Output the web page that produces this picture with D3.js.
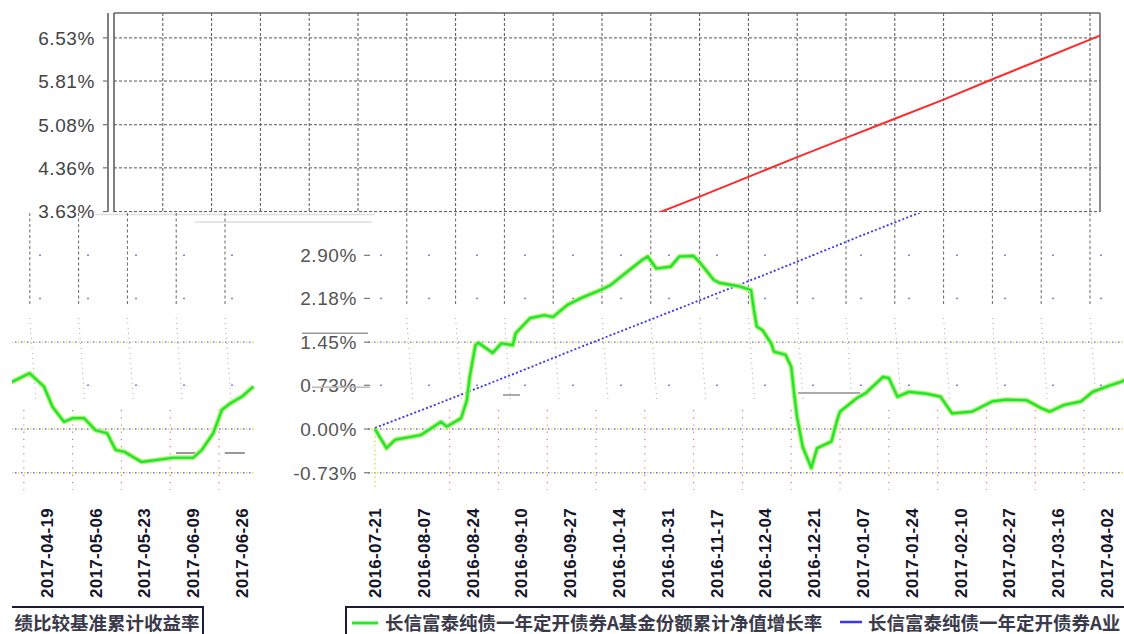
<!DOCTYPE html>
<html><head><meta charset="utf-8">
<script src="https://cdn.jsdelivr.net/npm/d3@7"></script>
<style>
html,body{margin:0;padding:0;background:#fff;overflow:hidden}
svg{display:block}
</style></head>
<body>
<svg id="chart" width="1124" height="634"></svg>
<script>
// ---------------- data ----------------
const fundDates = ["2016-07-21","2016-07-25","2016-07-28","2016-08-06","2016-08-13","2016-08-15","2016-08-20","2016-08-22","2016-08-23","2016-08-25","2016-08-26","2016-08-31","2016-09-03","2016-09-07","2016-09-08","2016-09-13","2016-09-18","2016-09-21","2016-09-26","2016-10-01","2016-10-07","2016-10-11","2016-10-17","2016-10-22","2016-10-24","2016-10-27","2016-11-01","2016-11-04","2016-11-09","2016-11-11","2016-11-16","2016-11-18","2016-11-25","2016-11-29","2016-11-30","2016-12-01","2016-12-03","2016-12-06","2016-12-07","2016-12-11","2016-12-13","2016-12-14","2016-12-15","2016-12-17","2016-12-20","2016-12-22","2016-12-27","2016-12-29","2016-12-30","2017-01-05","2017-01-08","2017-01-14","2017-01-16","2017-01-19","2017-01-23","2017-01-29","2017-02-03","2017-02-07","2017-02-14","2017-02-21","2017-02-26","2017-03-05","2017-03-10","2017-03-13","2017-03-18","2017-03-24","2017-03-28","2017-04-02","2017-04-07","2017-04-13","2017-04-18","2017-04-21","2017-04-25","2017-04-28","2017-05-02","2017-05-06","2017-05-10","2017-05-13","2017-05-16","2017-05-22","2017-05-27","2017-06-02","2017-06-09","2017-06-12","2017-06-16","2017-06-19","2017-06-22","2017-06-26","2017-06-30"];
const fundValues = [0.00,-0.32,-0.18,-0.10,0.12,0.04,0.18,0.48,0.87,1.40,1.44,1.27,1.43,1.40,1.60,1.85,1.90,1.87,2.07,2.19,2.31,2.40,2.63,2.82,2.88,2.68,2.71,2.88,2.89,2.79,2.49,2.44,2.38,2.32,1.99,1.71,1.65,1.43,1.29,1.24,1.04,0.60,0.21,-0.30,-0.65,-0.32,-0.21,0.15,0.29,0.52,0.60,0.87,0.85,0.54,0.62,0.59,0.54,0.26,0.29,0.46,0.49,0.48,0.35,0.29,0.40,0.46,0.62,0.71,0.79,0.93,0.71,0.37,0.12,0.18,0.18,-0.02,-0.07,-0.35,-0.38,-0.55,-0.52,-0.48,-0.48,-0.35,-0.07,0.32,0.43,0.54,0.71];

const benchDates = ["2016-07-21","2016-08-07","2016-08-24","2016-09-10","2016-09-27","2016-10-14","2016-10-31","2016-11-17","2016-12-04","2016-12-21","2017-01-07","2017-01-24","2017-02-10","2017-02-27","2017-03-16","2017-04-02","2017-04-19","2017-05-06","2017-05-23","2017-06-09","2017-06-26","2017-06-30"];
const benchValues = [0.02,0.33,0.65,0.97,1.30,1.62,1.94,2.26,2.58,2.91,3.24,3.56,3.88,4.21,4.54,4.86,5.18,5.50,5.84,6.17,6.50,6.58];

const xTickLabels = ["2016-07-21","2016-08-07","2016-08-24","2016-09-10","2016-09-27","2016-10-14","2016-10-31","2016-11-17","2016-12-04","2016-12-21","2017-01-07","2017-01-24","2017-02-10","2017-02-27","2017-03-16","2017-04-02","2017-04-19","2017-05-06","2017-05-23","2017-06-09","2017-06-26"];
const yTicksTop = [3.63,4.36,5.08,5.81,6.53];
const yTickLabelsTop = ["3.63%","4.36%","5.08%","5.81%","6.53%"];
const yTicksBottom = [-0.73,0.00,0.73,1.45,2.18,2.90];
const yTickLabelsBottom = ["-0.73%","0.00%","0.73%","1.45%","2.18%","2.90%"];
const seriesNames = ["长信富泰纯债一年定开债券A基金份额累计净值增长率","长信富泰纯债一年定开债券A业绩比较基准累计收益率"];

// ---------------- setup ----------------
const parse = d3.timeParse("%Y-%m-%d");
const svg = d3.select("#chart");
const W = 1124, H = 634;
const WRAP = 1109;
const FONT = "'Liberation Sans', Arial, sans-serif";
const CJK = "'Noto Sans CJK SC', sans-serif";

const x = d3.scaleTime().domain([parse("2016-07-21"), parse("2017-04-02")]).range([375, 1107]);
const xTop = d3.scaleTime().domain([parse("2016-07-21"), parse("2017-04-02")]).range([114, 846]);
const y = d3.scaleLinear().domain([0, 6.53]).range([429, 37.9]);

const fund = fundDates.map((d,i)=>({d:parse(d), v:fundValues[i]}));
const bench = benchDates.map((d,i)=>({d:parse(d), v:benchValues[i]}));
const ticks = xTickLabels.map((s)=>({d:parse(s), s}));
const gridTopDates = d3.range(1, 26).map(k => d3.timeDay.offset(parse("2016-07-21"), 17*k));
const redGridDates = d3.range(0, 19).map(k => d3.timeDay.offset(parse("2016-08-16"), 17*k));

const defs = svg.append("defs");
defs.append("clipPath").attr("id","clipTop").append("rect").attr("x",114).attr("y",13).attr("width",986).attr("height",199);
defs.append("clipPath").attr("id","clipMain").append("rect").attr("x",262).attr("y",213).attr("width",W-262).attr("height",H-213);
defs.append("clipPath").attr("id","clipWrap").append("rect").attr("x",12).attr("y",213).attr("width",250).attr("height",H-213);

// ---------------- top panel ----------------
const topG = svg.append("g");
topG.selectAll(".hgrid").data(yTicksTop).join("line")
  .attr("x1",114).attr("x2",1100).attr("y1",d=>y(d)).attr("y2",d=>y(d))
  .attr("stroke","#555").attr("stroke-width",1).attr("stroke-dasharray","3,2");
topG.selectAll(".vgrid").data(gridTopDates.filter(d=>xTop(d)<1098)).join("line")
  .attr("x1",d=>xTop(d)).attr("x2",d=>xTop(d)).attr("y1",13).attr("y2",212)
  .attr("stroke","#555").attr("stroke-width",1).attr("stroke-dasharray","3,2");
topG.append("line").attr("x1",114).attr("x2",1100).attr("y1",13).attr("y2",13).attr("stroke","#666").attr("stroke-width",1.5);
topG.append("line").attr("x1",1100).attr("x2",1100).attr("y1",13).attr("y2",212).attr("stroke","#666").attr("stroke-width",1.5);
topG.append("line").attr("x1",108).attr("x2",108).attr("y1",13).attr("y2",212).attr("stroke","#555").attr("stroke-width",1.5);
topG.append("line").attr("x1",114).attr("x2",114).attr("y1",13).attr("y2",212).attr("stroke","#555").attr("stroke-width",1.5);
topG.selectAll(".ytick").data(yTicksTop).join("line")
  .attr("x1",103).attr("x2",107).attr("y1",d=>y(d)).attr("y2",d=>y(d)).attr("stroke","#555");
topG.selectAll(".ylab").data(yTicksTop).join("text")
  .attr("x",95).attr("y",d=>y(d)).attr("dy","0.36em").attr("text-anchor","end")
  .attr("font-family",FONT).attr("font-size",19).attr("letter-spacing","0.6px").attr("fill","#444")
  .text((d,i)=>yTickLabelsTop[i]);
topG.append("path").datum(bench).attr("clip-path","url(#clipTop)")
  .attr("fill","none").attr("stroke","#ff2a2a").attr("stroke-width",2)
  .attr("d", d3.line().x(d=>xTop(d.d)).y(d=>y(d.v)));

svg.append("line").attr("x1",95).attr("x2",375).attr("y1",214.5).attr("y2",214.5).attr("stroke","#ddd").attr("stroke-width",1.5);
svg.append("line").attr("x1",195).attr("x2",372).attr("y1",222).attr("y2",222).attr("stroke","#ddd").attr("stroke-width",1.5);

// ---------------- bottom panel (drawn twice: main + wrapped) ----------------
function drawBottom(g, isMain){
  const ext = gridTopDates.filter(d=>xTop(d)>380);
  g.selectAll(".ext1").data(ext).join("line")
    .attr("x1",d=>xTop(d)).attr("x2",d=>xTop(d)).attr("y1",213).attr("y2",305)
    .attr("stroke","#666").attr("stroke-width",1).attr("stroke-dasharray","3,2.5");
  g.selectAll(".ext2").data(ext).join("line")
    .attr("x1",d=>xTop(d)).attr("x2",d=>xTop(d)+6).attr("y1",318).attr("y2",400)
    .attr("stroke","#aaa").attr("stroke-width",1).attr("stroke-dasharray","1,4");
  g.selectAll(".rgrid").data(redGridDates).join("line")
    .attr("x1",d=>x(d)).attr("x2",d=>x(d)).attr("y1",410).attr("y2",490)
    .attr("stroke","#f07070").attr("stroke-width",1.2).attr("stroke-dasharray","1.2,6");
  const xEnd = x(parse("2017-06-30"));
  [1.45, 0, -0.73].forEach(v=>{
    g.append("line").attr("x1",368).attr("x2",xEnd).attr("y1",y(v)).attr("y2",y(v))
      .attr("stroke","#6a6af0").attr("stroke-width",1.4).attr("stroke-dasharray","1.5,4.5");
    g.append("line").attr("x1",371).attr("x2",xEnd).attr("y1",y(v)).attr("y2",y(v))
      .attr("stroke","#e6d84a").attr("stroke-width",1.4).attr("stroke-dasharray","1.5,4.5");
  });
  [2.90, 2.18, 0.73].forEach(v=>{
    g.append("line").attr("x1",380).attr("x2",xEnd).attr("y1",y(v)).attr("y2",y(v))
      .attr("stroke","#8080e0").attr("stroke-width",1.4).attr("stroke-dasharray","2,46");
  });
  g.append("line").attr("x1",375).attr("x2",375).attr("y1",436).attr("y2",490)
    .attr("stroke","#e8dc40").attr("stroke-width",1.4).attr("stroke-dasharray","1.5,3");
  g.append("line").attr("x1",798).attr("x2",860).attr("y1",393).attr("y2",393).attr("stroke","#aaa").attr("stroke-width",2);
  g.append("line").attr("x1",503).attr("x2",520).attr("y1",395).attr("y2",395).attr("stroke","#aaa").attr("stroke-width",2);
  g.append("line").attr("x1",x(parse("2017-06-03"))).attr("x2",x(parse("2017-06-10"))).attr("y1",453).attr("y2",453).attr("stroke","#999").attr("stroke-width",2);
  g.append("line").attr("x1",x(parse("2017-06-20"))).attr("x2",x(parse("2017-06-27"))).attr("y1",453).attr("y2",453).attr("stroke","#999").attr("stroke-width",2);

  if(isMain){
    g.selectAll(".bylab").data(yTicksBottom).join("text")
      .attr("x",357).attr("y",d=>y(d)).attr("dy","0.36em").attr("text-anchor","end")
      .attr("font-family",FONT).attr("font-size",19).attr("letter-spacing","0.6px").attr("fill","#555")
      .text((d,i)=>yTickLabelsBottom[i]);
    g.selectAll(".bytick").data(yTicksBottom).join("line")
      .attr("x1",364).attr("x2",370).attr("y1",d=>y(d)).attr("y2",d=>y(d)).attr("stroke","#777").attr("stroke-width",1.2);
    g.append("line").attr("x1",302).attr("x2",368).attr("y1",y(1.45)-9).attr("y2",y(1.45)-9).attr("stroke","#999").attr("stroke-width",1.5);
    g.append("line").attr("x1",312).attr("x2",370).attr("y1",y(0.73)+2).attr("y2",y(0.73)+2).attr("stroke","#bbb").attr("stroke-width",1.5);
  }

  g.append("path").datum(bench)
    .attr("fill","none").attr("stroke","#3535f5").attr("stroke-width",1.8).attr("stroke-dasharray","2,2.2")
    .attr("d", d3.line().x(d=>x(d.d)).y(d=>y(d.v)));
  const fl = d3.line().x(d=>x(d.d)).y(d=>y(d.v));
  g.append("path").datum(fund).attr("fill","none").attr("stroke","#c8f560").attr("stroke-width",5).attr("stroke-linejoin","round").attr("d",fl);
  g.append("path").datum(fund).attr("fill","none").attr("stroke","#66e6c8").attr("stroke-width",3.6).attr("stroke-linejoin","round").attr("opacity",0.6).attr("d",fl);
  g.append("path").datum(fund).attr("fill","none").attr("stroke","#22e622").attr("stroke-width",2.2).attr("stroke-linejoin","round").attr("d",fl);

  // x labels: only those visible in this copy
  g.selectAll(".xlab").data(ticks.filter(t => isMain ? x(t.d) <= W : x(t.d) > W)).join("text")
    .attr("transform",t=>`translate(${x(t.d)},598) rotate(-90)`)
    .attr("dy","0.35em").attr("text-anchor","start")
    .attr("font-family",FONT).attr("font-weight","bold").attr("font-size",17).attr("letter-spacing","0.3px")
    .attr("fill","#15152a")
    .text(t=>t.s);

  // legend box
  g.append("rect").attr("x",346).attr("y",607).attr("width",966).attr("height",40)
    .attr("fill","#fff").attr("stroke","#1c1c3a").attr("stroke-width",2);
}

const mainWrap = svg.append("g").attr("clip-path","url(#clipMain)");
const mainG = mainWrap.append("g");
drawBottom(mainG, true);
const leftWrap = svg.append("g").attr("clip-path","url(#clipWrap)");
const wrapG = leftWrap.append("g").attr("transform",`translate(${-WRAP},0)`);
drawBottom(wrapG, false);

// legend entries (the second name is split where the picture wraps)
const splitAt = seriesNames[1].indexOf("业") + 1;
mainG.append("line").attr("x1",352).attr("x2",378).attr("y1",623).attr("y2",623).attr("stroke","#22ee22").attr("stroke-width",3);
mainG.append("text").attr("x",385).attr("y",630).attr("font-family",CJK)
  .attr("font-weight","bold").attr("font-size",18.5).attr("fill","#3a3a4a").text(seriesNames[0]);
mainG.append("line").attr("x1",840).attr("x2",862).attr("y1",622).attr("y2",622).attr("stroke","#3535f5").attr("stroke-width",2.5);
const t1 = mainG.append("text").attr("x",868).attr("y",630).attr("font-family",CJK)
  .attr("font-weight","bold").attr("font-size",18.5).attr("fill","#3a3a4a").text(seriesNames[1].slice(0, splitAt));
const w1 = t1.node().getComputedTextLength();
wrapG.append("text").attr("x",868 + w1 + 3).attr("y",630).attr("font-family",CJK)
  .attr("font-weight","bold").attr("font-size",18.5).attr("fill","#3a3a4a").text(seriesNames[1].slice(splitAt));
</script>
</body></html>
